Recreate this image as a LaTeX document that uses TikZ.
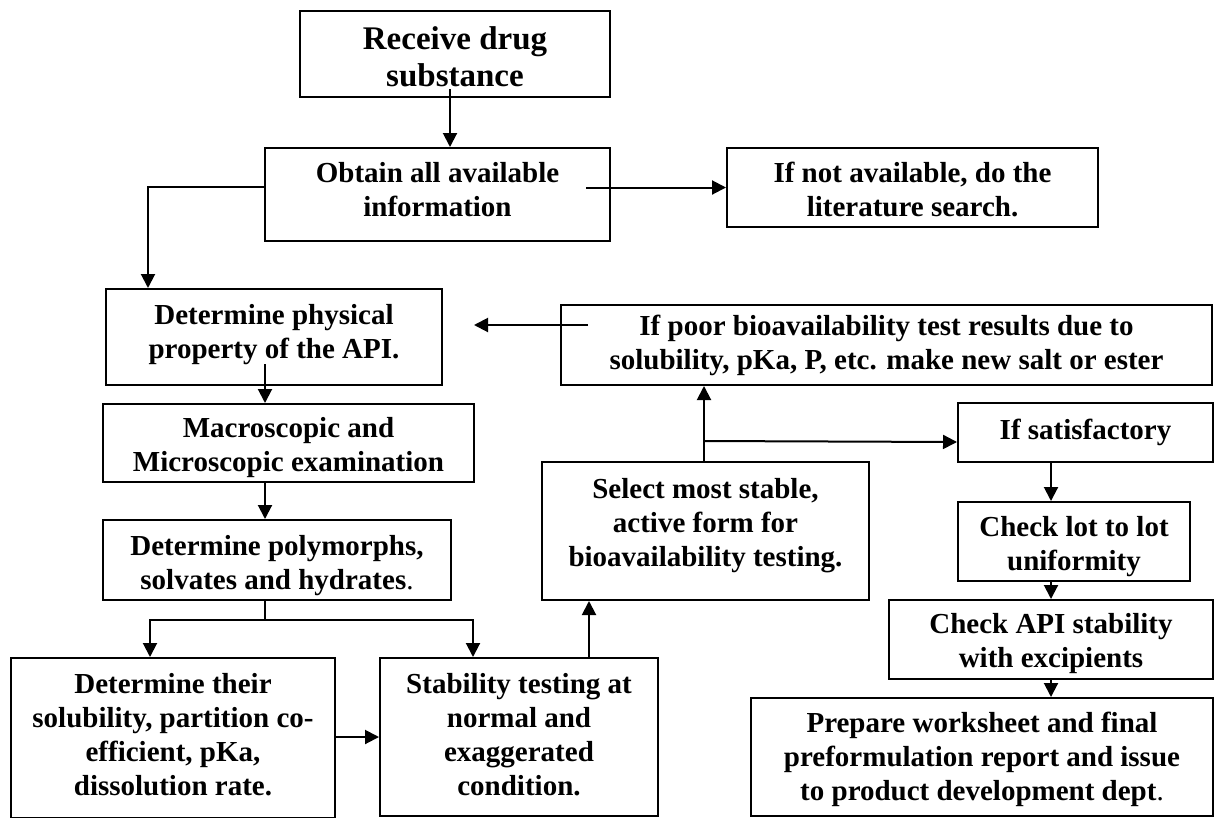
\documentclass[tikz,border=0pt]{standalone}
\usepackage{fontspec}
\setmainfont{Liberation Serif}
\usetikzlibrary{arrows.meta}
\usetikzlibrary{calc}

\begin{document}
\begin{tikzpicture}[x=1pt,y=1pt,yscale=-1,xscale=1,
  flowbox/.style={draw, line width=2pt, inner sep=0pt, align=center, font=\bfseries\fontsize{29}{34}\selectfont},
  arr/.style={line width=2pt, -{Triangle[length=14pt,width=14pt]}}]
\useasboundingbox (0,0) rectangle (1214,817);
\clip (0,0) rectangle (1214,817);

%Rect
\node [flowbox, minimum width=310pt, minimum height=86pt, text height=66pt, font=\bfseries\fontsize{33}{37}\selectfont] (recv) at (455,54) {Receive drug\\substance};
%Rect
\node [flowbox, minimum width=345pt, minimum height=93pt, text depth=10pt] (obtain) at (437.5,194.5) {Obtain all available\\information};
%Rect
\node [flowbox, minimum width=371pt, minimum height=79pt, text height=59pt] (notavail) at (912.5,187.5) {If not available, do the\\literature search.};
%Rect
\node [flowbox, minimum width=336pt, minimum height=96pt, text depth=12pt] (phys) at (274,337) {Determine physical\\property of the API.};
%Rect
\node [flowbox, minimum width=651pt, minimum height=80pt] (bioav) at (886.5,345) {If poor bioavailability test results due to\\solubility, pKa, P, etc. make new salt or ester};
%Rect
\node [flowbox, minimum width=371pt, minimum height=78pt, text height=64pt] (macro) at (288.5,443) {Macroscopic and\\Microscopic examination};
%Rect
\node [flowbox, minimum width=348pt, minimum height=80pt, text height=65pt] (poly) at (277,560) {Determine polymorphs,\\solvates and hydrates{\mdseries .}};
%Rect
\node [flowbox, minimum width=324pt, minimum height=160pt, text depth=7pt] (their) at (173,738) {Determine their\\solubility, partition co-\\efficient, pKa,\\dissolution rate.};
%Rect
\node [flowbox, minimum width=278pt, minimum height=158pt, text depth=5pt] (stab) at (519,737) {Stability testing at\\normal and\\exaggerated\\condition.};
%Rect
\node [flowbox, minimum width=327pt, minimum height=138pt, text depth=18pt] (select) at (705.5,531) {Select most stable,\\active form for\\bioavailability testing.};
%Rect
\node [flowbox, minimum width=255pt, minimum height=59pt] (satis) at (1085.5,432.5) {If satisfactory};
%Rect
\node [flowbox, minimum width=232pt, minimum height=79pt, text height=64pt] (lotcheck) at (1074,541.5) {Check lot to lot\\uniformity};
%Rect
\node [flowbox, minimum width=324pt, minimum height=79pt, text height=63pt] (apicheck) at (1051,639.5) {Check API stability\\with excipients};
%Rect
\node [flowbox, minimum width=462pt, minimum height=118pt, text height=93pt] (report) at (982,757) {Prepare worksheet and final\\preformulation report and issue\\to product development dept{\mdseries .}};

%Straight Lines
\draw [arr] ($(recv.south)+(-5,-9)$) -- ($(obtain.north)+(12.5,0)$);
%Straight Lines
\draw [arr] ($(obtain.west)+(0,-7.5)$) -| ($(phys.north west)+(43,0)$);
%Straight Lines
\draw [arr] ($(notavail.west)+(-140,0)$) -- (notavail.west);
%Straight Lines
\coordinate (physgap) at ($(phys.east)+(31,-12)$);
\draw [arr] ($(bioav.west)+(28,-20)$) -- (physgap);
%Straight Lines
\draw [arr] ($(phys.south)+(-9,-22)$) -- ($(macro.north)+(-23.5,0)$);
\draw [arr] ($(macro.south)+(-23.5,0)$) -- ($(poly.north)+(-12,0)$);
%Straight Lines
\draw [line width=2pt] ($(poly.south)+(-12,0)$) -- ++(0,19) coordinate (split);
\draw [arr] (split) -| ($(their.north)+(-23,0)$);
\draw [arr] (split) -| ($(stab.north)+(-46,0)$);
%Straight Lines
\draw [arr] (stab.west -| their.east) -- (stab.west);
\draw [arr] ($(stab.north)+(70,0)$) -- ($(select.south)+(-116.5,0)$);
%Straight Lines
\draw [arr] ($(select.north)+(-1.5,0)$) -- ($(bioav.south)+(-182.5,0)$);
\draw [arr] ($(select.north)+(-1.5,-20)$) -- ($(satis.west)+(0,9.5)$);
%Straight Lines
\draw [arr] ($(satis.south)+(-34.5,0)$) -- ($(lotcheck.north)+(-23,0)$);
\draw [arr] ($(lotcheck.south)+(-23,-2)$) -- (apicheck.north);
\draw [arr] (apicheck.south) -- ($(report.north)+(69,0)$);

\end{tikzpicture}
\end{document}
